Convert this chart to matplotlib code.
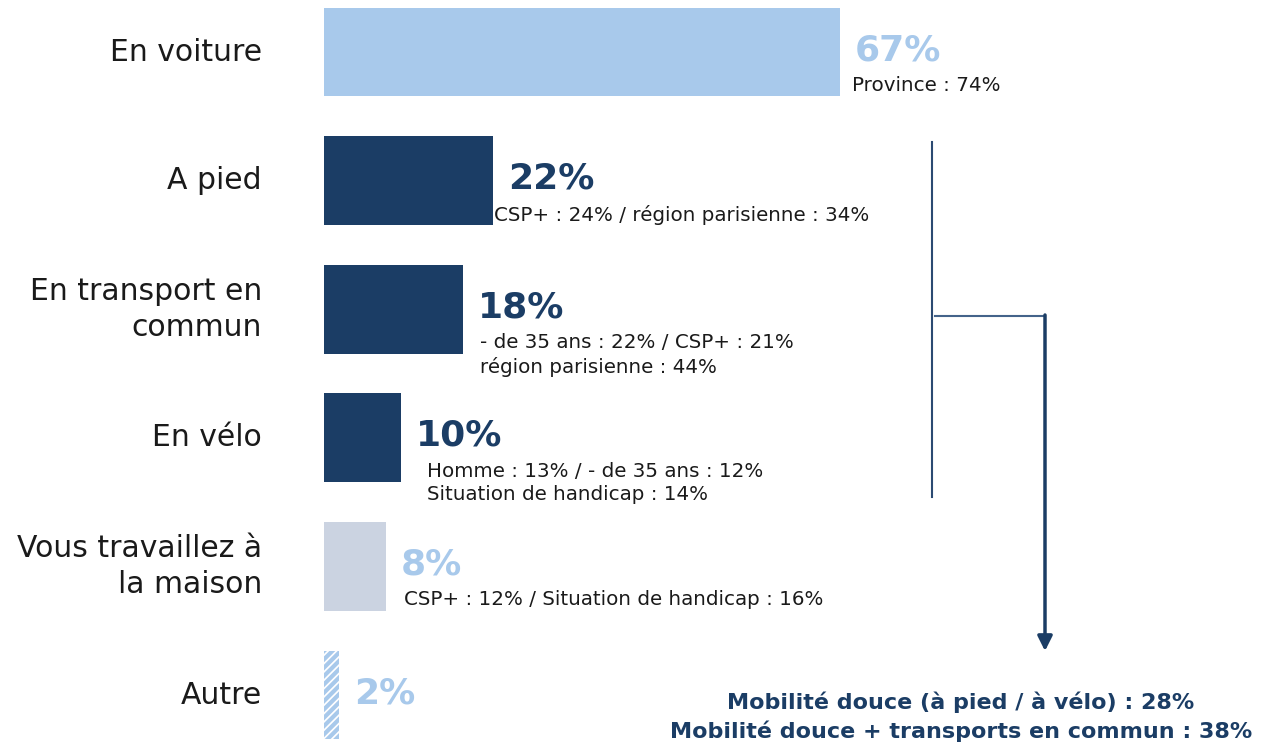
import numpy as np
import matplotlib
matplotlib.use('Agg')
import matplotlib.pyplot as plt

# Données
categories = ["En voiture", "A pied", "En transport en\ncommun", "En vélo",
              "Vous travaillez à\nla maison", "Autre"]
values = [67, 22, 18, 10, 8, 2]
value_labels = ["67%", "22%", "18%", "10%", "8%", "2%"]
details = ["Province : 74%",
           "CSP+ : 24% / région parisienne : 34%",
           "- de 35 ans : 22% / CSP+ : 21%\nrégion parisienne : 44%",
           "Homme : 13% / - de 35 ans : 12%\nSituation de handicap : 14%",
           "CSP+ : 12% / Situation de handicap : 16%",
           ""]
summary = ["Mobilité douce (à pied / à vélo) : 28%",
           "Mobilité douce + transports en commun : 38%"]

# Couleurs
light_blue = '#a8c9eb'
navy = '#1b3d65'
grey = '#cbd3e1'
bar_colors = [light_blue, navy, navy, navy, grey, 'white']
num_colors = [light_blue, navy, navy, navy, light_blue, light_blue]
# décalage (px) du texte de détail par rapport à la fin de la barre
detail_dx = [12, 1, 17, 26, 18, 0]

W, H = 1261, 744
px_per_unit = 7.7
PT = 0.72  # px -> points à 100 dpi
plt.rcParams['font.family'] = ['DejaVu Sans']
plt.rcParams['hatch.linewidth'] = 3.0
plt.rcParams['hatch.color'] = light_blue

fig = plt.figure(figsize=(W / 100, H / 100), dpi=100)
fig.patch.set_facecolor('white')

# Axe principal : x en %, y = index des catégories
left = 324
ax = fig.add_axes([left / W, 0, (W - left) / W, 1])
ax.set_xlim(0, (W - left) / px_per_unit)
y0, step = 52, 128.6
ax.set_ylim((H - y0) / step, -y0 / step)
ax.axis('off')

y = np.arange(len(categories))
bars = ax.barh(y, values, height=0.69, color=bar_colors, linewidth=0)
bars[-1].set_hatch('////')
bars[-1].set_edgecolor(light_blue)

for i, (cat, v, lab, det) in enumerate(zip(categories, values, value_labels, details)):
    ax.annotate(cat, (0, i), xytext=(-62 * PT, 0), textcoords='offset points',
                ha='right', va='center', fontsize=21.5, color='#1a1a1a',
                multialignment='right', linespacing=1.3)
    ax.annotate(lab, (v, i), xytext=(15 * PT, 2 * PT), textcoords='offset points',
                ha='left', va='center', fontsize=26, fontweight='bold',
                color=num_colors[i])
    if det:
        ax.annotate(det, (v, i), xytext=(detail_dx[i] * PT, -24 * PT),
                    textcoords='offset points', ha='left', va='top',
                    fontsize=14.3, color='#1a1a1a', linespacing=1.3)

# Accolade / flèche à droite (coordonnées pixel)
ov = fig.add_axes([0, 0, 1, 1])
ov.set_xlim(0, W)
ov.set_ylim(H, 0)
ov.axis('off')
ov.plot([932, 932], [142, 497], color='#2b4a72', lw=1.5)
ov.plot([935, 1045], [316, 316], color='#44638a', lw=1.5)
ov.annotate('', xy=(1045, 651), xytext=(1045, 315),
            arrowprops=dict(arrowstyle='-|>', color=navy, lw=2.5,
                            mutation_scale=22, shrinkA=0, shrinkB=0))
ov.text(961, 702, summary[0], ha='center', va='center', fontsize=16,
        fontweight='bold', color=navy)
ov.text(961, 731, summary[1], ha='center', va='center', fontsize=16,
        fontweight='bold', color=navy)

fig.savefig('out.png', dpi=100, facecolor='white')
